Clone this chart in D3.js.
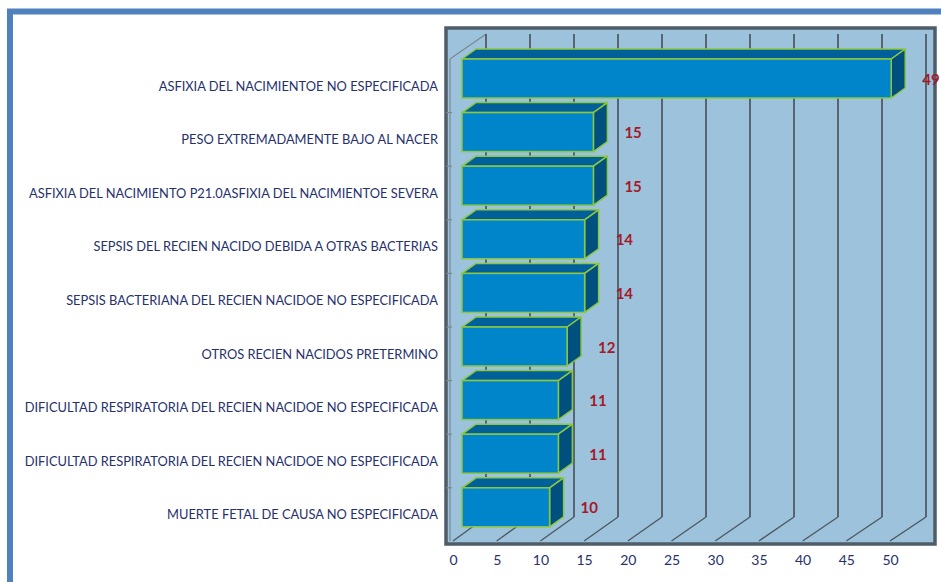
<!DOCTYPE html>
<html><head><meta charset="utf-8">
<script src="https://cdn.jsdelivr.net/npm/d3@7"></script>
<style>body{margin:0;background:#fff}svg{display:block}</style>
</head><body><svg id="c" width="941" height="582"></svg>
<script>
const categories = [
  "ASFIXIA DEL NACIMIENTOE NO ESPECIFICADA",
  "PESO EXTREMADAMENTE BAJO AL NACER",
  "ASFIXIA DEL NACIMIENTO P21.0ASFIXIA DEL NACIMIENTOE SEVERA",
  "SEPSIS DEL RECIEN NACIDO DEBIDA A OTRAS BACTERIAS",
  "SEPSIS BACTERIANA DEL RECIEN NACIDOE NO ESPECIFICADA",
  "OTROS RECIEN NACIDOS PRETERMINO",
  "DIFICULTAD RESPIRATORIA DEL RECIEN NACIDOE NO ESPECIFICADA",
  "DIFICULTAD RESPIRATORIA DEL RECIEN NACIDOE NO ESPECIFICADA",
  "MUERTE FETAL DE CAUSA NO ESPECIFICADA"
];
const values = [49, 15, 15, 14, 14, 12, 11, 11, 10];
const tickValues = [0, 5, 10, 15, 20, 25, 30, 35, 40, 45, 50];

const svg = d3.select("#c");
const idx = categories.map((c, i) => i);

// outer frame
svg.append("rect").attr("x", 10).attr("y", 11.5).attr("width", 1000).attr("height", 1000)
  .attr("fill", "none").attr("stroke", "#4f81bd").attr("stroke-width", 6);

// plot frame
svg.append("rect").attr("x", 446).attr("y", 28).attr("width", 489).attr("height", 516)
  .attr("fill", "#9dc3dc").attr("stroke", "#4e5d68").attr("stroke-width", 3.5);

const xFront = d3.scaleLinear().domain([0, 50]).range([453, 890]);
const xBack = d3.scaleLinear().domain([0, 50]).range([486, 926]);
const xBar = d3.scaleLinear().domain([0, 50]).range([462, 900]);
const y = d3.scaleBand().domain(idx).range([52, 52 + 53.6 * 9]);
const barOff = 7, barH = 39, dX = 14, dY = -10;
const backTop = 34, backBottom = 517, floorFront = 541;

// left wall
const g = svg.append("g");
g.append("line").attr("x1", 450).attr("y1", 59).attr("x2", 450).attr("y2", floorFront)
  .attr("stroke", "#7a8893").attr("stroke-width", 1.2);
g.append("line").attr("x1", 450).attr("y1", 59).attr("x2", xBack(0)).attr("y2", backTop)
  .attr("stroke", "#7a8893").attr("stroke-width", 1.2);
g.selectAll(".lt").data(idx.slice(1)).join("line")
  .attr("x1", 446).attr("x2", 452)
  .attr("y1", i => y(i) + barOff).attr("y2", i => y(i) + barOff)
  .attr("stroke", "#7a8893").attr("stroke-width", 1.2);

// gridlines on back wall + floor
g.selectAll(".gv").data(tickValues).join("line")
  .attr("x1", d => xBack(d)).attr("x2", d => xBack(d))
  .attr("y1", backTop).attr("y2", backBottom)
  .attr("stroke", "#4f5b65").attr("stroke-width", 1.8);
g.selectAll(".gf").data(tickValues).join("line")
  .attr("x1", d => xBack(d)).attr("y1", backBottom)
  .attr("x2", d => xFront(d)).attr("y2", floorFront)
  .attr("stroke", "#4f5b65").attr("stroke-width", 1.5);

// bars
const bars = svg.append("g").selectAll("g").data(idx).join("g");
const stroke = "#8dc63f";
bars.append("path")
  .attr("d", i => {
    const x0 = xBar(0), x1 = xBar(values[i]), t = y(i) + barOff;
    return `M${x0},${t}L${x0 + dX},${t + dY}L${x1 + dX},${t + dY}L${x1},${t}Z`;
  })
  .attr("fill", "#00609a").attr("stroke", stroke).attr("stroke-width", 1.5).attr("stroke-linejoin", "round");
bars.append("path")
  .attr("d", i => {
    const x1 = xBar(values[i]), t = y(i) + barOff;
    return `M${x1},${t}L${x1 + dX},${t + dY}L${x1 + dX},${t + barH + dY}L${x1},${t + barH}Z`;
  })
  .attr("fill", "#00507f").attr("stroke", stroke).attr("stroke-width", 1.5).attr("stroke-linejoin", "round");
bars.append("rect")
  .attr("x", xBar(0)).attr("y", i => y(i) + barOff)
  .attr("width", i => xBar(values[i]) - xBar(0)).attr("height", barH)
  .attr("fill", "#0085cb").attr("stroke", stroke).attr("stroke-width", 1.5);

// value labels
bars.append("text")
  .attr("x", i => xBar(values[i]) + dX + 17)
  .attr("y", i => y(i) + barOff + barH / 2)
  .attr("dominant-baseline", "central")
  .attr("font-family", "Lato, 'Liberation Sans', sans-serif")
  .attr("font-weight", "bold").attr("font-size", 15).attr("fill", "#a5192b")
  .text(i => values[i]);

// category labels
svg.append("g").selectAll("text").data(idx).join("text")
  .attr("x", 438).attr("y", i => y(i) + barOff + barH / 2 + 7)
  .attr("text-anchor", "end").attr("dominant-baseline", "central")
  .attr("font-family", "Lato, 'Liberation Sans', sans-serif")
  .attr("font-size", 12.85).attr("fill", "#27306b")
  .text(i => categories[i]);

// x axis
const ax = svg.append("g").attr("transform", "translate(0,550)")
  .call(d3.axisBottom(xFront).tickValues(tickValues).tickSize(0).tickPadding(5));
ax.select(".domain").remove();
ax.selectAll("text").attr("font-family", "Lato, 'Liberation Sans', sans-serif")
  .attr("font-size", 14).attr("fill", "#27306b");
</script></body></html>
